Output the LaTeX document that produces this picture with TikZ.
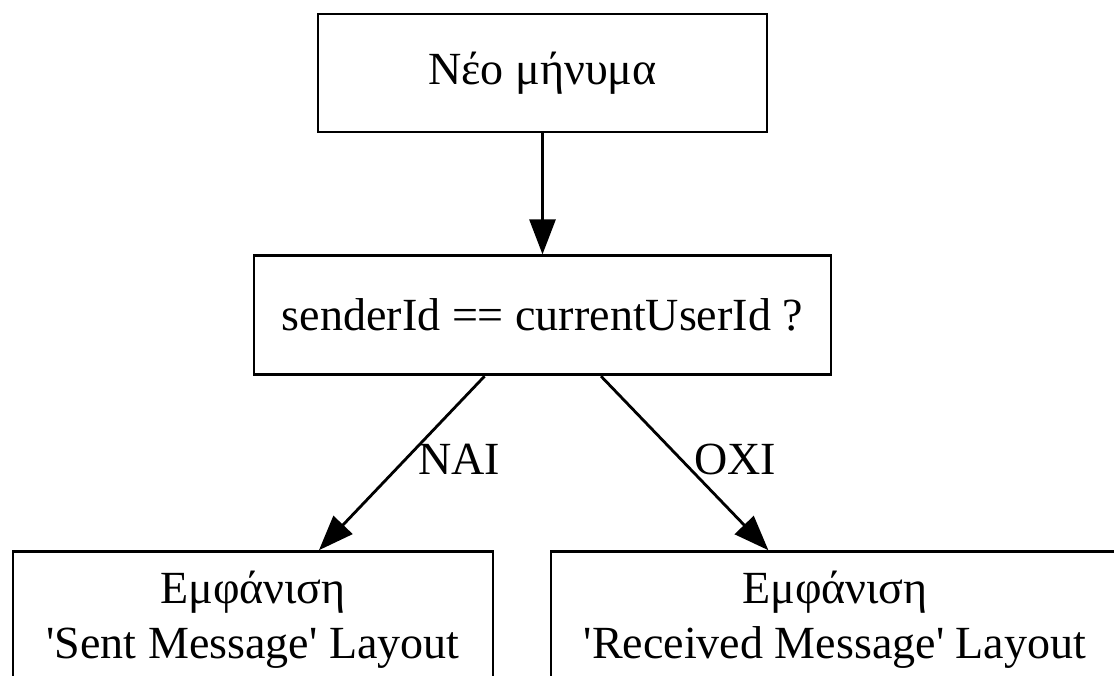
\documentclass[tikz,border=0pt]{standalone}
\usepackage{fontspec}
\setmainfont{Liberation Serif}
\usetikzlibrary{arrows.meta,positioning}
\newcommand{\sq}{\textquotesingle}
\tikzset{%
  gvfont/.style={font=\fontsize{13.1pt}{15.7pt}\selectfont},
  box/.style={rectangle, draw, line width=0.8pt, align=center, inner sep=0pt, gvfont},
  link/.style={-{Triangle[length=0.35cm,width=0.26cm]}, line width=0.8pt},
  answer/.style={gvfont, right}
}
\begin{document}
\begin{tikzpicture}
 \useasboundingbox (0,0) rectangle (11.14,6.75);

 \node[box, minimum width=4.49cm, minimum height=1.18cm] (msg) at (5.425,6.02) {Νέο μήνυμα};
 \node[box, minimum width=5.77cm, minimum height=1.19cm, below=1.21cm of msg] (check) {senderId == currentUserId ?};

 % the two layouts
 \node[box, minimum width=4.80cm, minimum height=1.36cm, below=1.74cm of check, xshift=-2.895cm] (sent)
   {Εμφάνιση\\ \sq Sent Message\sq{} Layout};
 \node[box, minimum width=5.68cm, minimum height=1.36cm, below=1.74cm of check, xshift=2.925cm] (recv)
   {Εμφάνιση\\ \sq Received Message\sq{} Layout};

 \draw[link] (msg) to (check);
 \draw[link] (check) to node[answer, pos=0.48] {NAI} (sent);
 \draw[link] (check) to node[answer, pos=0.48] {OXI} (recv);

\end{tikzpicture}
\end{document}
